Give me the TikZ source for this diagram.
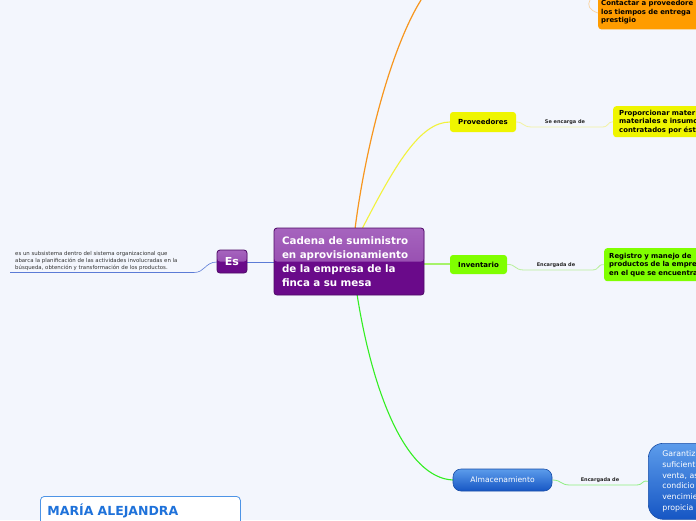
\documentclass[tikz,border=0pt]{standalone}
\usepackage{fontspec}
\setmainfont{DejaVu Sans}
\definecolor{bgc}{HTML}{F3F6FD}
\definecolor{purL}{HTML}{A664BE}
\definecolor{purM}{HTML}{8C3DA6}
\definecolor{purD}{HTML}{6A0A8A}
\definecolor{purB}{HTML}{4E0A66}
\definecolor{esline}{HTML}{5B7BD6}
\definecolor{orng}{HTML}{FF9C00}
\definecolor{orngline}{HTML}{F7961E}
\definecolor{orngsoft}{HTML}{FAD3A0}
\definecolor{yel}{HTML}{EFF500}
\definecolor{yelline}{HTML}{F2F23C}
\definecolor{yelsoft}{HTML}{F2F2A0}
\definecolor{lime}{HTML}{80FF00}
\definecolor{limeline}{HTML}{A6F26A}
\definecolor{limesoft}{HTML}{B8F09A}
\definecolor{grn}{HTML}{33EE22}
\definecolor{grnsoft}{HTML}{8EEE80}
\definecolor{bluL}{HTML}{5C9CEB}
\definecolor{bluD}{HTML}{1656C4}
\definecolor{bluB}{HTML}{1A4FA8}
\definecolor{mblue}{HTML}{1F72DA}
\definecolor{mborder}{HTML}{4D94E6}
\tikzset{
  purbox/.style={rounded corners=3pt, draw=purB, line width=0.8pt, fill=purD,
    path picture={\shade[top color=purL, bottom color=purM]
      (path picture bounding box.north west) rectangle (path picture bounding box.east);},
    text=white, font=\bfseries},
  yelbox/.style={rounded corners=3pt, fill=yel, font=\bfseries, text=black},
  limebox/.style={rounded corners=3pt, fill=lime, font=\bfseries, text=black},
  orngbox/.style={rounded corners=3pt, fill=orng, font=\bfseries, text=black},
  blubox/.style={draw=bluB, line width=0.6pt, top color=bluL, bottom color=bluD, text=white},
  lbl/.style={font=\bfseries\fontsize{5}{6}\selectfont, text=black!85, inner sep=1pt},
}
\begin{document}
\begin{tikzpicture}[x=1pt,y=-1pt]
\useasboundingbox (0,0) rectangle (696,520);
\clip (0,0) rectangle (696,520);
\fill[bgc] (0,0) rectangle (696,520);

% coordinates
\coordinate (ctop1) at (355,229);
\coordinate (ctop2) at (362,229);
\coordinate (cbot) at (357,294);
\coordinate (otop) at (421,0);
\coordinate (ocin) at (590,0);
\coordinate (ul) at (10,272.5);
\coordinate (ur) at (194,272.5);

% main branches
\draw[orngline, line width=1.2pt] (ctop1) .. controls (365,150) and (390,50) .. (otop);
\draw[yelline, line width=1.1pt] (ctop2) .. controls (395,165) and (420,122) .. (450,122);
\draw[grn, line width=1.1pt] (cbot) .. controls (372,390) and (405,478) .. (453,480);
\draw[limeline, line width=1.1pt] (424,264) -- (450,264);
\draw[esline, line width=0.8pt] (274,262) -- (247,262);
\draw[esline, line width=0.6pt] (ul) -- (ur) .. controls (205,272.5) and (205,262) .. (217,262);

% nodes
\node[purbox, minimum width=150pt, minimum height=67pt, text width=134pt, inner xsep=8pt, align=left,
  font=\bfseries\fontsize{10.3}{14}\selectfont] (central) at (349,261.5)
  {Cadena de suministro\\en aprovisionamiento\\de la empresa de la\\finca a su mesa};
\node[purbox, minimum width=30pt, minimum height=23pt, inner sep=0pt,
  font=\bfseries\fontsize{11}{12}\selectfont] (es) at (232,261.5) {Es};
\node[anchor=north west, align=left, inner sep=0pt, text=black!80,
  font=\fontsize{5.4}{7}\selectfont] (def) at (15,251.5)
  {es un subsistema dentro del sistema organizacional que\\abarca la planificación de las actividades involucradas en la\\búsqueda, obtención y transformación de los productos.};

\node[yelbox, minimum width=66pt, minimum height=20pt, inner sep=0pt,
  font=\bfseries\fontsize{7}{8}\selectfont] (prov) at (483,122) {Proveedores};
\node[yelbox, anchor=north west, minimum height=31pt, text width=110pt, inner xsep=6pt, align=left,
  font=\bfseries\fontsize{6.9}{8.5}\selectfont] (provd) at (613,106)
  {Proporcionar mater\\materiales e insumo\\contratados por ést};
\draw[yelsoft, line width=0.8pt] (prov.east) .. controls (524,122) and (522,127) .. (532,127)
  -- (602,127) .. controls (609,127) and (607,122) .. (provd.west);
\node[lbl] (provl) at (565,122) {Se encarga de};

\node[limebox, minimum width=57pt, minimum height=19pt, inner sep=0pt,
  font=\bfseries\fontsize{7}{8}\selectfont] (inv) at (478.5,264.5) {Inventario};
\node[limebox, anchor=north west, minimum height=33pt, text width=110pt, inner xsep=5pt, align=left,
  font=\bfseries\fontsize{6.9}{8.5}\selectfont] (invd) at (604,248)
  {Registro y manejo de\\productos de la empre\\en el que se encuentra};
\draw[limesoft, line width=0.8pt] (inv.east) .. controls (516,264) and (514,270) .. (524,270)
  -- (592,270) .. controls (600,270) and (597,264) .. (invd.west);
\node[lbl] (invl) at (556,265) {Encargada de};

\node[orngbox, anchor=south west, minimum height=34pt, text width=110pt, inner xsep=3pt, inner ysep=2.5pt, align=left,
  font=\bfseries\fontsize{6.9}{8.5}\selectfont] (orn) at (598,29.5)
  {Contactar a proveedore\\los tiempos de entrega\\prestigio};
\draw[orngsoft, line width=0.7pt] (598,13) .. controls (589,10) and (587,5) .. (ocin);

\node[blubox, rounded corners=8pt, minimum width=99pt, minimum height=22pt, inner sep=0pt,
  font=\fontsize{7.6}{9}\selectfont] (alm) at (502.5,480) {Almacenamiento};
\node[blubox, rounded corners=15pt, anchor=north west, minimum height=76pt, text width=100pt,
  inner xsep=14pt, inner ysep=4pt, align=left,
  font=\fontsize{7.8}{10.9}\selectfont] (almd) at (648,443)
  {Garantiz\\suficient\\venta, as\\condicio\\vencimie\\propicia};
\draw[grnsoft, line width=0.8pt] (alm.east) .. controls (562,480) and (560,485) .. (570,485)
  -- (636,485) .. controls (644,485) and (641,480) .. (almd.west);
\node[lbl] (alml) at (600,480) {Encargada de};

\node[draw=mborder, line width=0.8pt, fill=white, rounded corners=4pt, anchor=north west,
  minimum width=200pt, minimum height=30pt, text width=186pt, inner xsep=7pt, align=left,
  text=mblue, font=\bfseries\fontsize{12.5}{14}\selectfont] (maria) at (40,496) {MARÍA ALEJANDRA};
\end{tikzpicture}
\end{document}
